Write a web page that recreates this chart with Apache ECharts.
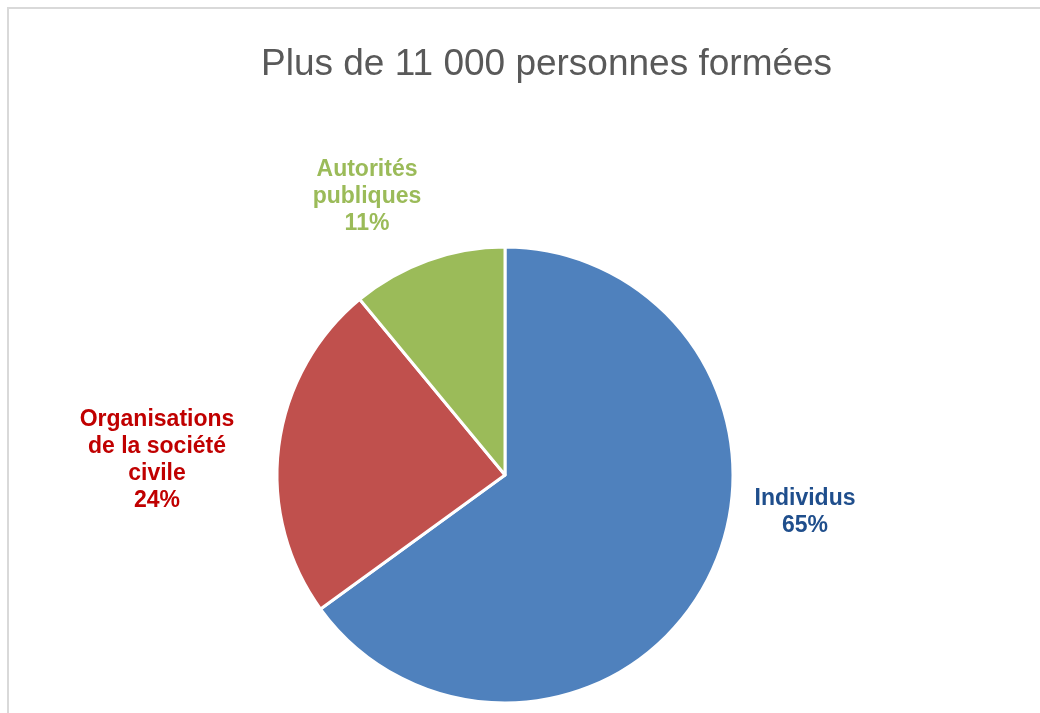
<!DOCTYPE html>
<html>
<head>
<meta charset="utf-8">
<script src="https://cdn.jsdelivr.net/npm/echarts@6/dist/echarts.min.js"></script>
<style>
  html, body { margin: 0; padding: 0; background: #fff; overflow: hidden; }
  #frame { position: absolute; left: 7px; top: 7px; width: 1100px; height: 800px; border: 2px solid #d9d9d9; box-sizing: border-box; }
  #chart { position: absolute; left: 0; top: 0; width: 1040px; height: 713px; }
</style>
</head>
<body>
<div id="frame"></div>
<div id="chart"></div>
<script>
// data
const categories = ['Individus', 'Organisations\nde la société\ncivile', 'Autorités\npubliques']
const shares = [65, 24, 11]
const sliceColors = ['#4F81BD', '#C0504D', '#9BBB59']
const labelColors = ['#1F4E8C', '#C00000', '#9BBB59']
const labelSpots = [[805, 512], [157, 460], [367, 197]]

const myChart = echarts.init(document.getElementById('chart'))
myChart.setOption({
  animation: false,
  title: {
    text: 'Plus de 11 000 personnes formées',
    left: 256,
    top: 41,
    textStyle: { fontFamily: 'Liberation Sans', fontSize: 37, fontWeight: 'normal', color: '#595959' }
  },
  series: [
    {
      type: 'pie',
      center: [505, 475],
      radius: 228,
      startAngle: 90,
      clockwise: true,
      label: {
        show: true,
        position: 'outside',
        formatter: p => p.name + '\n' + p.value + '%',
        fontFamily: 'Liberation Sans',
        fontSize: 23,
        fontWeight: 'bold',
        lineHeight: 27,
        align: 'center',
        verticalAlign: 'middle'
      },
      labelLine: { show: false },
      labelLayout: p => ({ x: labelSpots[p.dataIndex][0], y: labelSpots[p.dataIndex][1], align: 'center', verticalAlign: 'middle' }),
      itemStyle: { borderColor: '#fff', borderWidth: 3 },
      data: categories.map((c, i) => ({
        name: c,
        value: shares[i],
        itemStyle: { color: sliceColors[i] },
        label: { color: labelColors[i] }
      }))
    }
  ]
})
</script>
</body>
</html>
